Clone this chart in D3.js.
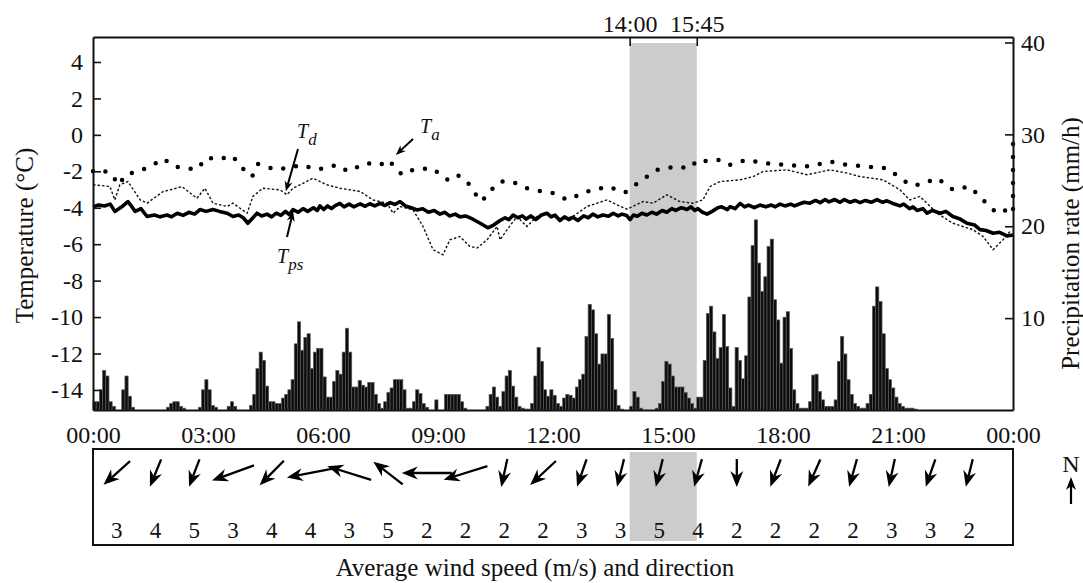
<!DOCTYPE html>
<html>
<head>
<meta charset="utf-8">
<script src="https://cdn.jsdelivr.net/npm/d3@7"></script>
<style>
  body { margin: 0; background: #fff; }
  svg text { font-family: "Liberation Serif", "Times New Roman", serif; fill: #111; }
</style>
</head>
<body>
<svg id="chart" width="1083" height="583"></svg>
<script>
// ---- axis ticks and labels ----
const hourTicks = [0, 3, 6, 9, 12, 15, 18, 21, 24];
const hourLabels = ["00:00", "03:00", "06:00", "09:00", "12:00", "15:00", "18:00", "21:00", "00:00"];
const tempTicks = [4, 2, 0, -2, -4, -6, -8, -10, -12, -14];
const rainTicks = [10, 20, 30, 40];
const eventWindow = [14, 15.75];
const eventLabels = ["14:00", "15:45"];

// ---- precipitation rate (mm/h), 5-minute bins, one row per hour ----
const rainRate = [
  0.9, 0.9, 2.2, 4.3, 3.7, 0.9, 0.4, 0, 0, 2.2, 3.7, 1.5,
  0.3, 0, 0, 0, 0, 0, 0, 0, 0, 0, 0, 0.3,
  0.7, 0.9, 0.9, 0.4, 0.2, 0, 0, 0, 0, 0.3, 2.2, 3.3,
  2.2, 0.5, 0.3, 0, 0, 0, 0.4, 0.9, 0.4, 0, 0, 0,
  0, 0.5, 1.7, 4.5, 6.3, 5.4, 2.6, 0.9, 0.9, 0.7, 0.7, 1.3,
  1.7, 2.2, 3.3, 7.2, 9.6, 6.5, 7.9, 8.3, 4.5, 6.3, 6.7, 6.7,
  3.6, 1.4, 1.4, 3.1, 4.3, 3.9, 6.3, 8.9, 6.3, 2.5, 2.5, 3.2,
  2.7, 2.5, 3.0, 3.0, 1.7, 0.7, 0.2, 0.9, 1.9, 2.4, 3.3, 3.3,
  3.3, 2.2, 0.2, 0.2, 0.9, 2.2, 1.8, 0.7, 0.3, 0, 0, 1.1,
  0, 0, 1.7, 1.7, 1.7, 1.7, 1.7, 0.9, 0.2, 0, 0, 0,
  0, 0, 0, 0.4, 1.7, 2.5, 1.4, 0.4, 2.0, 3.7, 4.3, 2.6,
  1.4, 0.4, 0.2, 0.1, 0.1, 0.7, 3.7, 6.8, 5.3, 2.2, 1.5, 2.2,
  1.6, 0.7, 0.4, 1.3, 1.7, 1.6, 1.3, 2.5, 3.3, 3.9, 8.0, 11.5,
  10.9, 8.3, 5.0, 6.1, 6.1, 10.4, 7.8, 2.2, 0.5, 0.1, 0, 0,
  0.4, 2.0, 1.4, 0.2, 0, 0, 0, 0, 0.2, 0.7, 3.1, 5.3,
  5.0, 3.7, 2.5, 2.5, 2.5, 1.9, 1.3, 0.7, 0.2, 1.4, 1.4, 5.4,
  10.5, 11.3, 8.5, 5.6, 6.8, 10.4, 6.9, 2.4, 0.4, 6.8, 5.4, 3.4,
  5.9, 12.3, 17.9, 20.7, 16.0, 12.9, 14.5, 17.8, 18.6, 12.0, 9.8, 5.1,
  10.1, 10.7, 6.7, 2.2, 0.7, 0.2, 0.2, 0.2, 0.9, 3.8, 3.9, 2.0,
  1.1, 0.4, 0.4, 0.4, 1.1, 5.3, 8.0, 6.1, 3.3, 1.7, 0.7, 0.4,
  0.2, 0.2, 0.7, 1.7, 11.3, 13.4, 11.8, 8.3, 4.5, 3.3, 2.4, 1.4,
  0.7, 0.4, 0.2, 0.2, 0.2, 0.1, 0, 0, 0, 0, 0, 0,
  0, 0, 0, 0, 0, 0, 0, 0, 0, 0, 0, 0,
  0, 0, 0, 0, 0, 0, 0, 0, 0, 0, 0, 0
];

// ---- air temperature Ta: [hour, °C] ----
const airTemp = [
  [0, -2.0], [0.18, -1.9], [0.5, -2.15], [0.65, -2.75], [0.91, -2.1], [1.04, -2.1],
  [1.49, -1.75], [1.83, -1.3], [2.14, -1.75], [2.53, -1.85], [2.71, -1.9], [2.97, -1.25],
  [3.26, -1.35], [3.63, -1.15], [3.97, -2.0], [4.15, -2.3], [4.3, -1.6], [4.75, -1.9],
  [5.19, -1.8], [5.4, -1.65], [5.87, -1.9], [6.37, -1.65], [6.65, -2.0], [6.97, -1.7],
  [7.15, -1.55], [7.49, -1.65], [7.7, -1.37], [8.06, -2.19], [8.35, -1.92], [8.84, -1.83],
  [9.26, -2.47], [9.5, -2.19], [9.76, -2.56], [10.02, -3.38], [10.15, -3.66], [10.3, -3.2],
  [10.62, -2.56], [10.93, -2.56], [11.32, -2.93], [11.71, -3.11], [12.0, -3.2], [12.37, -3.57],
  [12.89, -3.11], [13.43, -2.84], [13.88, -3.16], [14.27, -2.56], [14.71, -1.92], [15.23, -1.74],
  [15.57, -1.83], [15.78, -1.37], [16.04, -1.46], [16.36, -1.37], [16.62, -1.65], [17.06, -1.37],
  [17.48, -1.55], [18.1, -1.65], [18.7, -1.74], [19.23, -1.46], [19.67, -1.65], [20.19, -1.74],
  [20.71, -1.83], [21.31, -2.74], [21.57, -2.74], [22.02, -2.38], [22.43, -3.0], [22.88, -2.84],
  [23.22, -3.57], [23.58, -4.3], [23.84, -4.12], [24, -4.3], [24, -0.3]
];

// ---- dew point Td: [hour, °C] ----
const dewPoint = [
  [0, -2.74], [0.44, -2.83], [0.57, -3.57], [0.7, -2.74], [0.91, -2.56], [1.23, -3.57],
  [1.41, -3.75], [1.83, -3.11], [2.01, -3.02], [2.32, -2.84], [2.71, -3.48], [2.92, -2.93],
  [3.13, -3.75], [3.5, -3.93], [3.65, -3.75], [4.02, -4.3], [4.17, -3.38], [4.43, -2.93],
  [4.88, -3.02], [5.06, -3.29], [5.22, -2.93], [5.74, -2.38], [6.1, -2.74], [6.44, -2.93],
  [6.97, -3.11], [7.3, -3.57], [7.67, -3.75], [7.83, -4.3], [8.01, -3.93], [8.35, -4.12],
  [8.61, -5.03], [8.87, -6.3], [9.13, -6.58], [9.31, -5.76], [9.57, -5.58], [9.83, -6.12],
  [10.02, -6.21], [10.28, -5.76], [10.54, -5.03], [10.62, -5.76], [10.8, -5.21], [11.06, -4.48],
  [11.32, -5.03], [11.58, -4.48], [11.84, -4.3], [12.18, -4.67], [12.52, -4.48], [12.89, -3.93],
  [13.41, -3.57], [13.67, -3.84], [13.93, -4.08], [14.35, -3.66], [14.61, -3.75], [14.97, -3.29],
  [15.31, -3.66], [15.65, -3.75], [15.91, -3.57], [16.1, -2.83], [16.36, -2.56], [16.88, -2.47],
  [17.22, -2.29], [17.48, -2.01], [18.1, -1.92], [18.63, -2.19], [19.23, -1.92], [19.67, -2.1],
  [20.01, -2.29], [20.61, -2.47], [21.05, -3.02], [21.31, -3.57], [21.57, -3.38], [22.02, -4.3],
  [22.43, -4.85], [22.96, -5.21], [23.22, -5.58], [23.48, -6.3], [23.74, -5.76], [23.92, -5.3]
];

// ---- precipitation sensor temperature Tps: [hour, °C] ----
const sensorTemp = [
  [0, -3.95], [0.15, -3.85], [0.3, -3.9], [0.45, -3.8], [0.57, -4.2], [0.75, -3.95], [0.91, -3.66],
  [1.0, -3.9], [1.1, -4.2], [1.25, -4.05], [1.41, -4.48], [1.6, -4.4], [1.75, -4.5], [1.93, -4.4],
  [2.05, -4.5], [2.2, -4.3], [2.35, -4.42], [2.5, -4.25], [2.65, -4.35], [2.79, -4.1], [2.95, -4.2],
  [3.13, -4.1], [3.3, -4.2], [3.5, -4.3], [3.65, -4.48], [3.8, -4.4], [3.92, -4.55], [4.04, -4.85],
  [4.15, -4.6], [4.28, -4.3], [4.4, -4.45], [4.54, -4.35], [4.66, -4.5], [4.78, -4.3], [4.9, -4.42],
  [5.02, -4.2], [5.12, -4.38], [5.22, -4.1], [5.35, -4.25], [5.48, -4.05], [5.6, -4.2], [5.75, -4.0],
  [5.85, -4.15], [5.92, -3.9], [6.02, -4.1], [6.12, -3.9], [6.22, -4.05], [6.32, -3.88], [6.44, -3.76],
  [6.55, -3.95], [6.68, -3.8], [6.8, -3.95], [6.97, -3.79], [7.1, -3.92], [7.22, -3.78], [7.35, -3.9],
  [7.49, -3.76], [7.62, -3.88], [7.75, -3.72], [7.88, -3.82], [8.01, -3.66], [8.15, -3.9], [8.3, -4.0],
  [8.45, -4.12], [8.6, -4.05], [8.75, -4.25], [8.9, -4.15], [9.05, -4.35], [9.18, -4.25], [9.3, -4.45],
  [9.45, -4.35], [9.57, -4.5], [9.72, -4.45], [9.91, -4.63], [10.1, -4.85], [10.3, -5.1], [10.45, -4.95],
  [10.62, -4.7], [10.75, -4.55], [10.85, -4.65], [10.96, -4.4], [11.08, -4.55], [11.2, -4.45],
  [11.3, -4.62], [11.42, -4.45], [11.55, -4.65], [11.7, -4.4], [11.84, -4.3], [11.95, -4.5],
  [12.05, -4.4], [12.18, -4.7], [12.3, -4.5], [12.42, -4.65], [12.52, -4.52], [12.65, -4.7],
  [12.8, -4.45], [12.92, -4.55], [13.04, -4.35], [13.17, -4.5], [13.3, -4.4], [13.45, -4.47],
  [13.57, -4.3], [13.7, -4.45], [13.8, -4.35], [13.92, -4.42], [14.01, -4.65], [14.1, -4.4],
  [14.2, -4.47], [14.32, -4.3], [14.45, -4.4], [14.58, -4.25], [14.7, -4.35], [14.85, -4.15],
  [14.97, -4.25], [15.1, -4.05], [15.2, -4.15], [15.35, -4.0], [15.5, -4.1], [15.6, -3.95],
  [15.7, -4.15], [15.78, -4.05], [15.9, -4.25], [16.02, -4.35], [16.15, -4.2], [16.3, -4.0],
  [16.4, -3.95], [16.55, -4.1], [16.62, -3.94], [16.75, -4.05], [16.88, -3.76], [17.0, -3.95],
  [17.1, -3.85], [17.25, -4.0], [17.4, -3.85], [17.55, -3.95], [17.7, -3.85], [17.8, -3.95],
  [17.92, -3.8], [18.05, -3.9], [18.2, -3.8], [18.3, -3.9], [18.44, -3.78], [18.55, -3.7],
  [18.7, -3.75], [18.85, -3.6], [18.97, -3.72], [19.1, -3.55], [19.2, -3.68], [19.35, -3.55],
  [19.49, -3.7], [19.6, -3.55], [19.75, -3.7], [19.88, -3.6], [20.01, -3.72], [20.15, -3.6],
  [20.3, -3.7], [20.45, -3.55], [20.6, -3.7], [20.71, -3.62], [20.85, -3.75], [21.05, -3.9],
  [21.15, -3.8], [21.3, -4.05], [21.39, -3.95], [21.5, -4.15], [21.65, -4.05], [21.76, -4.3],
  [21.9, -4.15], [22.1, -4.3], [22.25, -4.2], [22.43, -4.48], [22.6, -4.6], [22.8, -4.85],
  [23.0, -4.95], [23.14, -5.2], [23.3, -5.25], [23.48, -5.4], [23.65, -5.35], [23.84, -5.55],
  [24, -5.5]
];

// ---- hourly wind: speed (m/s) and direction the wind blows from (deg from N) ----
const windSpeed = [3, 4, 5, 3, 4, 4, 3, 5, 2, 2, 2, 2, 3, 3, 5, 4, 2, 2, 2, 2, 3, 3, 2];
const windFrom  = [32, 13, 12, 57, 29, 71, 119, 144, 90, 61, 7, 31, 11, 8, 8, 9, 0, 12, 14, 9, 7, 11, 8];

// ---- layout ----
const svg = d3.select("#chart");
const pLeft = 93, pRight = 1013, pTop = 37, pBottom = 410;
const boxTop = 449, boxBottom = 545;
const font = "Liberation Serif, Times New Roman, serif";

const x = d3.scaleLinear().domain([0, 24]).range([pLeft, pRight]);
const yT = d3.scaleLinear().domain([-15.1, 5.37]).range([pBottom, pTop]);
const yP = d3.scaleLinear().domain([0, 40.6]).range([pBottom, pTop]);

// shaded event window
svg.append("rect")
  .attr("x", x(eventWindow[0])).attr("y", pTop + 6)
  .attr("width", x(eventWindow[1]) - x(eventWindow[0]))
  .attr("height", pBottom - pTop - 6)
  .attr("fill", "#cccccc");

// precipitation bars
const binH = 1 / 12;
svg.append("g").selectAll("rect")
  .data(rainRate.map((v, i) => ({ t: i * binH, v })).filter(d => d.v > 0))
  .join("rect")
  .attr("x", d => x(d.t))
  .attr("width", d => x(d.t + binH) - x(d.t))
  .attr("y", d => yP(d.v))
  .attr("height", d => yP(0) - yP(d.v))
  .attr("fill", "#0d0d0d")
  .attr("stroke", "#5a5a5a")
  .attr("stroke-width", 0.7);

// temperature lines
const line = d3.line().x(d => x(d[0])).y(d => yT(d[1]));
svg.append("path").datum(dewPoint).attr("d", line)
  .attr("fill", "none").attr("stroke", "#111").attr("stroke-width", 1.4)
  .attr("stroke-dasharray", "2.5 2");
svg.append("path").datum(sensorTemp).attr("d", line)
  .attr("fill", "none").attr("stroke", "#000").attr("stroke-width", 3.6)
  .attr("stroke-linejoin", "round");
svg.append("path").datum(airTemp).attr("d", line)
  .attr("fill", "none").attr("stroke", "#000").attr("stroke-width", 4.5)
  .attr("stroke-linecap", "round").attr("stroke-dasharray", "0 13");

// axes
function styleAxis(g) {
  g.attr("font-size", 24).attr("font-family", font);
  g.select(".domain").attr("stroke", "#111").attr("stroke-width", 2);
  g.selectAll(".tick line").attr("stroke", "#111").attr("stroke-width", 1.6);
  g.selectAll(".tick text").attr("fill", "#111");
}

svg.append("g").attr("transform", `translate(${pLeft},0)`)
  .call(d3.axisLeft(yT).tickValues(tempTicks).tickFormat(d => String(d))
    .tickSize(-8).tickSizeOuter(0).tickPadding(10))
  .call(styleAxis);

svg.append("g").attr("transform", `translate(${pRight},0)`)
  .call(d3.axisRight(yP).tickValues(rainTicks).tickFormat(d => String(d))
    .tickSize(-8).tickSizeOuter(0).tickPadding(8))
  .call(styleAxis);

svg.append("g").attr("transform", `translate(0,${pBottom})`)
  .call(d3.axisBottom(x).tickValues(hourTicks).tickFormat((d, i) => hourLabels[i])
    .tickSize(0).tickSizeOuter(0).tickPadding(16))
  .call(styleAxis);

svg.append("g").attr("transform", `translate(0,${pTop})`)
  .call(d3.axisTop(x).tickValues(eventWindow).tickFormat((d, i) => eventLabels[i])
    .tickSize(-9).tickSizeOuter(0).tickPadding(5))
  .call(styleAxis)
  .call(g => g.selectAll(".tick text").attr("dy", "0"));

// axis titles
svg.append("text")
  .attr("transform", `translate(24,${(pTop + pBottom) / 2 + 12}) rotate(-90)`)
  .attr("text-anchor", "middle").attr("dominant-baseline", "central")
  .attr("font-size", 25).text("Temperature (°C)");
svg.append("text")
  .attr("transform", `translate(1070,${(pTop + pBottom) / 2 + 20}) rotate(-90)`)
  .attr("text-anchor", "middle").attr("dominant-baseline", "central")
  .attr("font-size", 25).text("Precipitation rate (mm/h)");

// arrow with a notched, filled head
function arrowHead(g, x1, y1, x2, y2, len, half, notch, sw) {
  const dx = x2 - x1, dy = y2 - y1, L = Math.hypot(dx, dy);
  const ux = dx / L, uy = dy / L, nx = -uy, ny = ux;
  g.append("line")
    .attr("x1", x1).attr("y1", y1)
    .attr("x2", x2 - ux * notch).attr("y2", y2 - uy * notch)
    .attr("stroke", "#000").attr("stroke-width", sw || 2);
  g.append("path")
    .attr("d", `M${x2},${y2}` +
      `L${x2 - ux * len + nx * half},${y2 - uy * len + ny * half}` +
      `L${x2 - ux * notch},${y2 - uy * notch}` +
      `L${x2 - ux * len - nx * half},${y2 - uy * len - ny * half}Z`)
    .attr("fill", "#000");
}

// series labels with pointer arrows
const notes = svg.append("g");
function seriesLabel(tx, ty, sub) {
  const t = notes.append("text").attr("x", tx).attr("y", ty)
    .attr("font-size", 20).attr("font-style", "italic");
  t.append("tspan").text("T");
  t.append("tspan").attr("dy", 7).attr("font-size", 17).text(sub);
}
seriesLabel(297, 138, "d");
arrowHead(notes, 298, 149, x(5.03), yT(-3.1), 10, 4, 7);
seriesLabel(277, 263, "ps");
arrowHead(notes, 287, 237, x(5.22), yT(-4.2), 10, 4, 7);
seriesLabel(420, 133, "a");
arrowHead(notes, 413, 139, x(7.9), yT(-1.1), 10, 4, 7);

// wind panel
svg.append("rect")
  .attr("x", x(eventWindow[0])).attr("y", boxTop + 3)
  .attr("width", x(eventWindow[1]) - x(eventWindow[0]))
  .attr("height", boxBottom - boxTop - 7)
  .attr("fill", "#cccccc");
svg.append("rect")
  .attr("x", pLeft).attr("y", boxTop)
  .attr("width", pRight - pLeft).attr("height", boxBottom - boxTop)
  .attr("fill", "none").attr("stroke", "#111").attr("stroke-width", 2);

const windX = d3.scalePoint().domain(d3.range(windSpeed.length)).range([x(0.62), x(22.86)]);
const windG = svg.append("g");
windFrom.forEach((deg, i) => {
  const b = (deg + 180) * Math.PI / 180;
  const hx = 25 * Math.sin(b), hy = -14 * Math.cos(b);
  const cx = windX(i), cy = 473;
  arrowHead(windG, cx - hx, cy - hy, cx + hx, cy + hy, 16, 6.5, 11, 2.3);
});
windG.selectAll("text").data(windSpeed).join("text")
  .attr("x", (d, i) => windX(i)).attr("y", 538)
  .attr("text-anchor", "middle").attr("font-size", 23)
  .text(d => d);

// north indicator
svg.append("text").attr("x", 1071).attr("y", 472)
  .attr("text-anchor", "middle").attr("font-size", 24).text("N");
arrowHead(svg.append("g"), 1071, 504, 1071, 477, 13, 5, 9, 2.2);

svg.append("text")
  .attr("x", 535).attr("y", 576)
  .attr("text-anchor", "middle").attr("font-size", 25)
  .text("Average wind speed (m/s) and direction");
</script>
</body>
</html>
